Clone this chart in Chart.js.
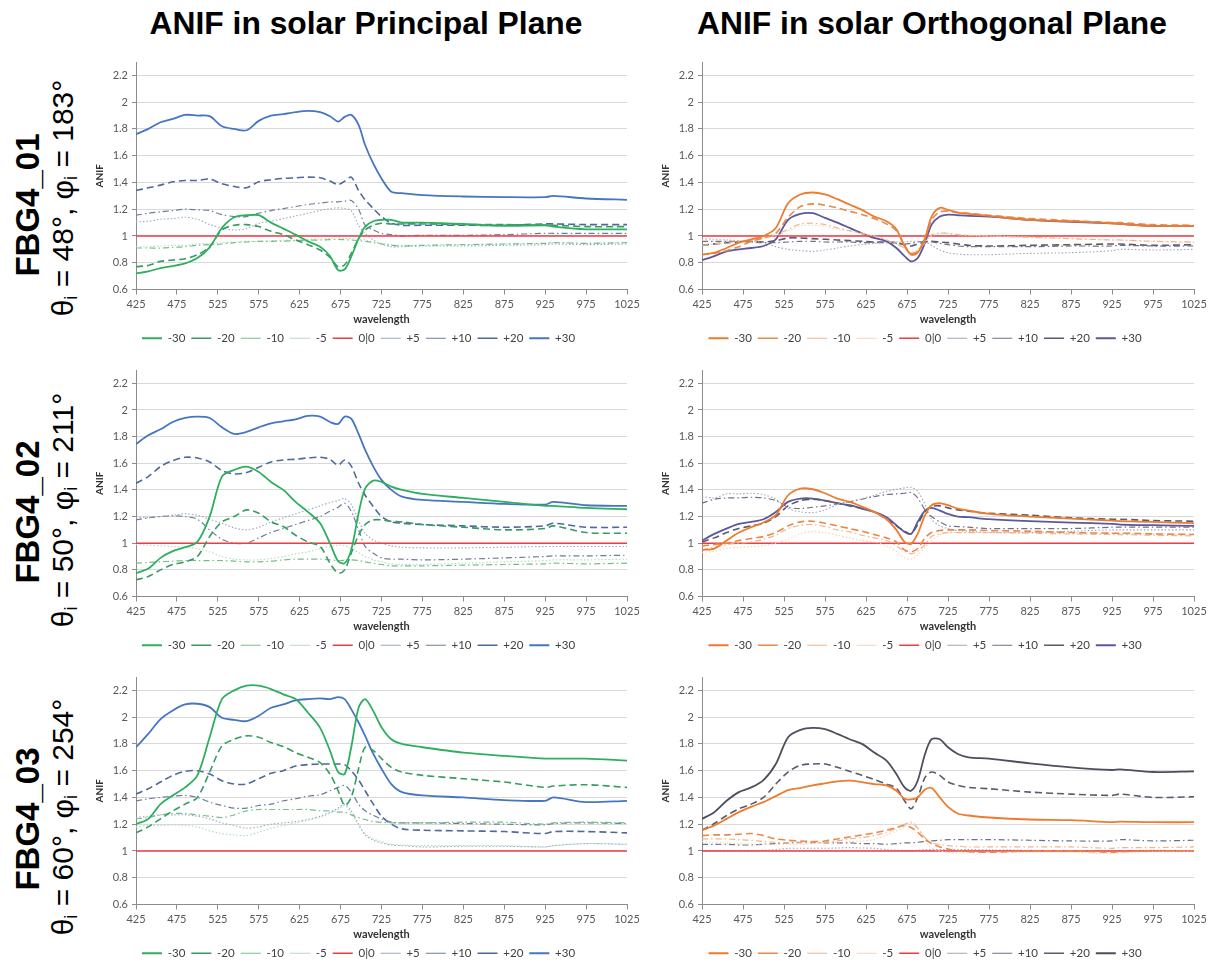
<!DOCTYPE html>
<html><head><meta charset="utf-8">
<script src="https://cdn.jsdelivr.net/npm/chart.js@4.4.1/dist/chart.umd.min.js"></script>
<style>
html,body{margin:0;padding:0;background:#fff;width:1216px;height:965px;overflow:hidden;position:relative;}
canvas{position:absolute;}
.title{position:absolute;font-family:"Liberation Sans",Arial,sans-serif;font-weight:bold;font-size:31.8px;color:#000;white-space:nowrap;transform:translate(-50%,-50%);z-index:2;}
.rowlab{position:absolute;font-family:"Liberation Sans",Arial,sans-serif;white-space:nowrap;transform:translate(-50%,-50%) rotate(-90deg);color:#000;z-index:2;line-height:1;}
.rowlab.b{font-weight:bold;font-size:33px;}
.rowlab.n{font-size:30px;}
.rowlab sub{font-size:60%;vertical-align:-0.25em;}
</style></head><body>
<div class="title" style="left:366px;top:23px">ANIF in solar Principal Plane</div>
<div class="title" style="left:932px;top:23px">ANIF in solar Orthogonal Plane</div>
<div class="rowlab b" style="left:27px;top:205px">FBG4_01</div>
<div class="rowlab n" style="left:64px;top:198px">θ<sub>i</sub> = 48°, φ<sub>i</sub> = 183°</div>
<div class="rowlab b" style="left:27px;top:512px">FBG4_02</div>
<div class="rowlab n" style="left:64px;top:510px">θ<sub>i</sub> = 50°, φ<sub>i</sub> = 211°</div>
<div class="rowlab b" style="left:27px;top:819px">FBG4_03</div>
<div class="rowlab n" style="left:64px;top:817px">θ<sub>i</sub> = 60°, φ<sub>i</sub> = 254°</div>
<script>
// ---------------- DATA ----------------
const wavelengths = [425,440,455,470,485, 500,515,530,545,560, 575,590,605,620,635, 650,662,672,680,688, 697,705,715,725,737, 750,775,825,875,925, 935,975,1025];
const seriesLabels = ['-30','-20','-10','-5','0|0','+5','+10','+20','+30'];
const xTickValues = [425,475,525,575,625,675,725,775,825,875,925,975,1025];
const yTickValues = [0.6,0.8,1.0,1.2,1.4,1.6,1.8,2.0,2.2];
const zeroRef = [1,1,1,1,1, 1,1,1,1,1, 1,1,1,1,1, 1,1,1,1,1, 1,1,1,1,1, 1,1,1,1,1, 1,1,1];

// FBG4_01 principal plane
const p01P_m30 = [0.72,0.735,0.76,0.775,0.795, 0.835,0.915,1.06,1.14,1.155, 1.155,1.10,1.055,1.01,0.96, 0.92,0.85,0.745,0.75,0.845, 0.98,1.07,1.11,1.12,1.12, 1.10,1.10,1.09,1.075,1.08, 1.07,1.05,1.05];
const p01P_m20 = [0.77,0.78,0.81,0.82,0.83, 0.86,0.92,1.045,1.08,1.085, 1.07,1.035,1.01,0.97,0.935, 0.895,0.84,0.77,0.785,0.87, 0.98,1.045,1.08,1.095,1.09, 1.09,1.09,1.085,1.085,1.08, 1.08,1.07,1.07];
const p01P_m10 = [0.91,0.91,0.91,0.915,0.92, 0.93,0.935,0.94,0.95,0.955, 0.96,0.96,0.962,0.965,0.968, 0.97,0.972,0.975,0.972,0.97, 0.965,0.96,0.95,0.94,0.93, 0.925,0.93,0.935,0.94,0.945, 0.95,0.945,0.95];
const p01P_m5  = [0.92,0.92,0.925,0.93,0.93, 0.94,0.945,0.95,0.955,0.96, 0.96,0.965,0.968,0.97,0.975, 0.978,0.982,0.985,0.982,0.98, 0.975,0.97,0.955,0.945,0.935, 0.93,0.93,0.935,0.94,0.945, 0.95,0.945,0.95];
const p01P_p5  = [1.105,1.11,1.125,1.13,1.14, 1.125,1.085,1.06,1.045,1.055, 1.095,1.11,1.13,1.15,1.17, 1.19,1.205,1.21,1.205,1.19, 1.08,1.02,0.97,0.94,0.92, 0.92,0.925,0.925,0.93,0.935, 0.94,0.935,0.94];
const p01P_p10 = [1.155,1.17,1.18,1.19,1.20, 1.195,1.19,1.16,1.145,1.145, 1.17,1.19,1.205,1.22,1.235, 1.245,1.255,1.255,1.26,1.265, 1.20,1.08,1.045,1.02,1.01, 1.0,1.005,1.005,1.01,1.02, 1.02,1.02,1.02];
const p01P_p20 = [1.34,1.36,1.38,1.405,1.415, 1.415,1.425,1.39,1.37,1.36, 1.405,1.42,1.43,1.435,1.44, 1.435,1.41,1.385,1.41,1.44, 1.34,1.27,1.205,1.145,1.095, 1.08,1.08,1.08,1.08,1.09, 1.09,1.085,1.085];
const p01P_p30 = [1.76,1.80,1.85,1.875,1.905, 1.90,1.895,1.82,1.80,1.79, 1.86,1.90,1.91,1.925,1.935, 1.925,1.895,1.855,1.89,1.905, 1.83,1.68,1.54,1.43,1.33, 1.32,1.305,1.295,1.29,1.29, 1.30,1.28,1.27];

// FBG4_01 orthogonal plane
const p01O_m30 = [0.86,0.875,0.91,0.95,0.975, 1.0,1.06,1.245,1.31,1.325, 1.31,1.275,1.235,1.195,1.145, 1.11,1.05,0.925,0.86,0.875, 0.985,1.145,1.21,1.195,1.175, 1.165,1.15,1.12,1.11,1.095, 1.09,1.075,1.075];
const p01O_m20 = [0.86,0.87,0.89,0.92,0.96, 0.985,1.02,1.14,1.22,1.24, 1.23,1.21,1.185,1.16,1.13, 1.09,1.04,0.93,0.87,0.885, 0.98,1.12,1.18,1.185,1.175, 1.17,1.155,1.13,1.115,1.10, 1.10,1.085,1.08];
const p01O_m10 = [0.93,0.94,0.95,0.96,0.97, 0.99,1.01,1.05,1.09,1.095, 1.085,1.06,1.04,1.02,1.0, 0.97,0.94,0.91,0.87,0.89, 0.95,1.01,1.02,1.02,1.01, 1.005,1.0,0.99,0.98,0.97, 0.97,0.96,0.955];
const p01O_m5  = [0.97,0.97,0.97,0.97,0.97, 0.98,1.0,1.04,1.075,1.08, 1.07,1.05,1.035,1.015,1.0, 0.97,0.94,0.91,0.88,0.9, 0.96,1.0,1.02,1.02,1.01, 1.005,1.0,0.99,0.98,0.97, 0.97,0.96,0.95];
const p01O_p5  = [0.98,0.975,0.97,0.965,0.96, 0.95,0.92,0.90,0.89,0.885, 0.895,0.91,0.925,0.935,0.945, 0.95,0.955,0.955,0.96,0.96, 0.955,0.93,0.895,0.875,0.865, 0.86,0.86,0.87,0.875,0.89, 0.9,0.895,0.9];
const p01O_p10 = [0.96,0.96,0.96,0.96,0.955, 0.95,0.95,0.955,0.96,0.96, 0.955,0.955,0.955,0.95,0.95, 0.95,0.945,0.94,0.945,0.955, 0.96,0.955,0.945,0.935,0.925, 0.92,0.92,0.92,0.925,0.925, 0.93,0.925,0.925];
const p01O_p20 = [0.93,0.94,0.95,0.955,0.96, 0.955,0.965,0.985,0.985,0.98, 0.975,0.97,0.965,0.96,0.955, 0.955,0.95,0.935,0.925,0.94, 0.955,0.96,0.955,0.95,0.94, 0.93,0.925,0.93,0.935,0.94, 0.94,0.93,0.935];
const p01O_p30 = [0.82,0.85,0.885,0.90,0.91, 0.925,0.975,1.12,1.165,1.17, 1.135,1.10,1.06,1.02,0.985, 0.96,0.91,0.85,0.81,0.835, 0.95,1.085,1.145,1.16,1.155, 1.15,1.145,1.12,1.105,1.095, 1.09,1.075,1.075];

// FBG4_02 principal plane
const p02P_m30 = [0.775,0.81,0.89,0.94,0.97, 1.01,1.20,1.50,1.55,1.575, 1.535,1.46,1.40,1.31,1.235, 1.15,1.0,0.865,0.85,0.95, 1.225,1.41,1.47,1.46,1.425, 1.40,1.37,1.34,1.31,1.28, 1.28,1.265,1.255];
const p02P_m20 = [0.725,0.75,0.80,0.84,0.86, 0.90,1.05,1.16,1.20,1.25, 1.225,1.16,1.125,1.06,1.01, 0.975,0.85,0.775,0.80,0.925, 1.06,1.14,1.175,1.175,1.165, 1.16,1.14,1.12,1.10,1.11, 1.13,1.08,1.075];
const p02P_m10 = [0.85,0.855,0.86,0.865,0.87, 0.87,0.87,0.87,0.865,0.86, 0.86,0.865,0.875,0.88,0.88, 0.88,0.875,0.87,0.872,0.875, 0.87,0.86,0.85,0.84,0.83, 0.83,0.83,0.835,0.84,0.845, 0.85,0.845,0.85];
const p02P_m5  = [0.99,0.985,0.98,0.975,0.97, 0.96,0.935,0.90,0.88,0.875, 0.875,0.885,0.90,0.92,0.935, 0.96,0.975,0.985,0.98,0.96, 0.93,0.90,0.875,0.86,0.845, 0.84,0.84,0.85,0.86,0.87, 0.875,0.875,0.88];
const p02P_p5  = [1.19,1.195,1.20,1.21,1.22, 1.21,1.18,1.15,1.115,1.10, 1.12,1.16,1.19,1.22,1.25, 1.28,1.305,1.32,1.335,1.29, 1.17,1.075,1.025,1.0,0.98, 0.97,0.965,0.965,0.97,0.975, 0.975,0.975,0.975];
const p02P_p10 = [1.175,1.19,1.20,1.205,1.20, 1.18,1.10,1.03,1.0,1.0, 1.04,1.08,1.11,1.14,1.17, 1.20,1.24,1.27,1.30,1.24, 1.10,0.975,0.925,0.89,0.88, 0.88,0.875,0.88,0.89,0.90, 0.905,0.905,0.91];
const p02P_p20 = [1.45,1.50,1.575,1.62,1.645, 1.64,1.61,1.545,1.52,1.53, 1.57,1.61,1.625,1.63,1.64, 1.645,1.63,1.585,1.625,1.58, 1.45,1.36,1.275,1.20,1.16, 1.15,1.14,1.13,1.12,1.13, 1.15,1.12,1.12];
const p02P_p30 = [1.745,1.81,1.855,1.91,1.94, 1.95,1.94,1.87,1.82,1.835, 1.87,1.90,1.915,1.93,1.955, 1.95,1.91,1.895,1.95,1.935, 1.82,1.70,1.575,1.475,1.40, 1.35,1.325,1.31,1.295,1.29, 1.31,1.285,1.28];

// FBG4_02 orthogonal plane
const p02O_m30 = [0.95,0.96,1.02,1.08,1.12, 1.155,1.21,1.36,1.41,1.405, 1.375,1.335,1.31,1.275,1.235, 1.18,1.10,1.01,0.995,1.07, 1.21,1.285,1.30,1.285,1.26, 1.245,1.22,1.20,1.185,1.17, 1.165,1.16,1.15];
const p02O_m20 = [0.98,0.99,1.00,1.02,1.035, 1.05,1.08,1.13,1.16,1.165, 1.15,1.13,1.11,1.09,1.065, 1.04,1.01,0.95,0.935,0.96, 1.04,1.08,1.095,1.10,1.10, 1.10,1.095,1.09,1.08,1.075, 1.075,1.07,1.065];
const p02O_m10 = [0.95,0.97,0.99,1.0,1.01, 1.03,1.06,1.11,1.135,1.14, 1.125,1.10,1.085,1.06,1.04, 1.02,0.98,0.94,0.92,0.94, 0.99,1.05,1.07,1.08,1.08, 1.08,1.08,1.075,1.07,1.065, 1.065,1.06,1.055];
const p02O_m5  = [0.93,0.94,0.96,0.97,0.975, 0.98,1.0,1.03,1.07,1.09, 1.08,1.06,1.04,1.02,1.01, 0.98,0.94,0.89,0.88,0.91, 0.97,1.02,1.06,1.08,1.08, 1.08,1.08,1.08,1.08,1.075, 1.075,1.07,1.07];
const p02O_p5  = [1.35,1.34,1.37,1.37,1.375, 1.365,1.33,1.26,1.235,1.23, 1.25,1.29,1.31,1.335,1.36, 1.39,1.405,1.415,1.42,1.39, 1.29,1.18,1.13,1.11,1.095, 1.09,1.08,1.08,1.09,1.10, 1.10,1.10,1.10];
const p02O_p10 = [1.30,1.33,1.34,1.34,1.345, 1.34,1.32,1.27,1.26,1.27, 1.28,1.295,1.31,1.33,1.35, 1.365,1.37,1.375,1.38,1.34, 1.25,1.20,1.16,1.13,1.125, 1.12,1.11,1.11,1.11,1.12, 1.12,1.12,1.12];
const p02O_p20 = [1.01,1.04,1.08,1.11,1.13, 1.15,1.20,1.28,1.32,1.33, 1.32,1.30,1.28,1.26,1.235, 1.18,1.13,1.09,1.07,1.14, 1.24,1.275,1.28,1.265,1.25, 1.24,1.225,1.21,1.19,1.18, 1.18,1.17,1.165];
const p02O_p30 = [1.02,1.07,1.11,1.145,1.16, 1.18,1.235,1.31,1.335,1.335, 1.32,1.30,1.285,1.26,1.235, 1.195,1.135,1.085,1.07,1.16, 1.245,1.265,1.245,1.22,1.20, 1.195,1.18,1.165,1.155,1.145, 1.14,1.135,1.13];

// FBG4_03 principal plane
const p03P_m30 = [1.20,1.24,1.35,1.415,1.475, 1.565,1.85,2.135,2.20,2.235, 2.235,2.21,2.17,2.135,2.035, 1.92,1.75,1.59,1.575,1.775, 2.07,2.135,2.045,1.925,1.835, 1.80,1.775,1.735,1.71,1.69, 1.69,1.69,1.675];
const p03P_m20 = [1.135,1.18,1.24,1.30,1.35, 1.40,1.59,1.785,1.835,1.86, 1.85,1.81,1.78,1.735,1.70, 1.66,1.575,1.45,1.34,1.40, 1.615,1.775,1.75,1.69,1.625, 1.59,1.565,1.54,1.515,1.475, 1.485,1.495,1.475];
const p03P_m10 = [1.24,1.25,1.27,1.28,1.28, 1.27,1.26,1.25,1.27,1.30, 1.31,1.31,1.31,1.31,1.31, 1.30,1.30,1.29,1.29,1.27, 1.25,1.235,1.22,1.215,1.21, 1.21,1.21,1.215,1.215,1.20, 1.21,1.215,1.21];
const p03P_m5  = [1.18,1.19,1.19,1.195,1.19, 1.18,1.15,1.13,1.12,1.115, 1.14,1.17,1.19,1.21,1.23, 1.25,1.28,1.31,1.34,1.28, 1.19,1.13,1.09,1.07,1.05, 1.045,1.04,1.04,1.04,1.03, 1.04,1.055,1.05];
const p03P_p5  = [1.25,1.26,1.27,1.27,1.27, 1.26,1.24,1.21,1.19,1.17, 1.18,1.20,1.21,1.22,1.235, 1.26,1.29,1.32,1.35,1.30, 1.20,1.12,1.08,1.06,1.045, 1.04,1.03,1.035,1.035,1.03, 1.04,1.055,1.05];
const p03P_p10 = [1.375,1.39,1.40,1.41,1.415, 1.40,1.365,1.34,1.32,1.32, 1.34,1.35,1.375,1.39,1.41, 1.42,1.45,1.475,1.49,1.44, 1.35,1.30,1.265,1.24,1.215, 1.21,1.21,1.205,1.20,1.195, 1.205,1.21,1.205];
const p03P_p20 = [1.425,1.465,1.515,1.565,1.595, 1.60,1.575,1.525,1.50,1.50, 1.54,1.58,1.60,1.635,1.645, 1.65,1.65,1.65,1.645,1.60, 1.53,1.45,1.35,1.26,1.20, 1.165,1.155,1.15,1.145,1.13, 1.145,1.145,1.135];
const p03P_p30 = [1.775,1.875,1.985,2.05,2.095, 2.10,2.075,1.995,1.98,1.97, 2.01,2.07,2.095,2.125,2.135, 2.14,2.135,2.15,2.135,2.06, 1.96,1.86,1.725,1.615,1.50, 1.44,1.415,1.40,1.38,1.375, 1.40,1.365,1.375];

// FBG4_03 orthogonal plane
const p03O_m30 = [1.155,1.19,1.24,1.29,1.33, 1.365,1.41,1.455,1.47,1.49, 1.505,1.52,1.525,1.515,1.50, 1.49,1.45,1.39,1.385,1.40, 1.46,1.47,1.40,1.33,1.28, 1.265,1.25,1.235,1.23,1.215, 1.22,1.215,1.215];
const p03O_m20 = [1.115,1.12,1.12,1.125,1.13, 1.115,1.09,1.08,1.075,1.07, 1.075,1.09,1.105,1.12,1.135, 1.155,1.175,1.19,1.175,1.14, 1.09,1.055,1.03,1.015,1.0, 0.995,0.99,1.0,1.0,0.99, 0.995,1.0,1.0];
const p03O_m10 = [1.09,1.09,1.09,1.085,1.08, 1.07,1.065,1.06,1.06,1.06, 1.065,1.075,1.09,1.10,1.115, 1.14,1.17,1.20,1.21,1.17, 1.10,1.06,1.05,1.04,1.035, 1.03,1.03,1.03,1.03,1.02, 1.025,1.025,1.03];
const p03O_m5  = [1.07,1.065,1.06,1.055,1.05, 1.05,1.05,1.05,1.05,1.055, 1.06,1.065,1.07,1.075,1.085, 1.12,1.15,1.18,1.22,1.18, 1.08,1.02,1.0,0.99,0.985, 0.985,0.99,0.99,0.99,0.98, 0.985,0.995,1.0];
const p03O_p5  = [1.0,1.0,1.0,1.0,1.0, 1.005,1.01,1.02,1.02,1.02, 1.02,1.022,1.025,1.022,1.02, 1.01,1.005,1.0,1.0,1.005, 1.01,1.01,1.01,1.01,1.01, 1.01,1.008,1.005,1.0,1.0, 1.0,1.005,1.0];
const p03O_p10 = [1.05,1.05,1.05,1.045,1.045, 1.05,1.055,1.06,1.065,1.065, 1.06,1.06,1.06,1.055,1.055, 1.05,1.055,1.06,1.06,1.065, 1.07,1.075,1.08,1.085,1.085, 1.085,1.085,1.08,1.075,1.075, 1.085,1.075,1.08];
const p03O_p20 = [1.155,1.205,1.265,1.315,1.35, 1.40,1.50,1.59,1.64,1.65, 1.65,1.625,1.595,1.565,1.535, 1.50,1.47,1.375,1.315,1.40, 1.55,1.59,1.565,1.515,1.49, 1.475,1.465,1.44,1.425,1.415, 1.425,1.40,1.405];
const p03O_p30 = [1.24,1.29,1.375,1.44,1.475, 1.53,1.65,1.85,1.905,1.92, 1.91,1.875,1.835,1.80,1.735, 1.675,1.575,1.475,1.45,1.525, 1.725,1.835,1.835,1.775,1.725, 1.70,1.69,1.655,1.625,1.605, 1.61,1.59,1.595];

// ---------------- STYLES / LAYOUT ----------------
const lineStyles = [
  {dash:[], w:1.8}, {dash:[7,4], w:1.6}, {dash:[6,3,1.5,3], w:1.2}, {dash:[1.5,2], w:1.1},
  {dash:[], w:1.6},
  {dash:[1.5,2], w:1.1}, {dash:[6,3,1.5,3], w:1.2}, {dash:[7,4], w:1.6}, {dash:[], w:1.8}
];
const greenBlue = ['#2EAF5E','#379B62','#74BF88','#B5DBBF','#EE3B45','#9CA8C0','#6D7C9B','#4D6A9B','#4676C2'];
const orangePurple = ['#EE7B2E','#E8894A','#F0B48C','#F5D2B8','#EE3B45','#A3A3BA','#6F6F88','#5A5A6E','#5A58A0'];
const orangeGrey = ['#EE7B2E','#E8894A','#F0B48C','#F5D2B8','#EE3B45','#A3A3BA','#6F6F88','#5A5A6E','#4E4E5C'];

const colBox = [{left:136,right:627},{left:702,right:1194}];
const rowBox = [{top:62,bottom:290},{top:370,bottom:597},{top:677,bottom:905}];
const Y_W = 46, X_H = 37, LEG_H = 27, PAD_T = 12, PAD_R = 16;

const panels = [
  {row:0,col:0,colors:greenBlue,   series:[p01P_m30,p01P_m20,p01P_m10,p01P_m5,zeroRef,p01P_p5,p01P_p10,p01P_p20,p01P_p30]},
  {row:0,col:1,colors:orangePurple,series:[p01O_m30,p01O_m20,p01O_m10,p01O_m5,zeroRef,p01O_p5,p01O_p10,p01O_p20,p01O_p30]},
  {row:1,col:0,colors:greenBlue,   series:[p02P_m30,p02P_m20,p02P_m10,p02P_m5,zeroRef,p02P_p5,p02P_p10,p02P_p20,p02P_p30]},
  {row:1,col:1,colors:orangePurple,series:[p02O_m30,p02O_m20,p02O_m10,p02O_m5,zeroRef,p02O_p5,p02O_p10,p02O_p20,p02O_p30]},
  {row:2,col:0,colors:greenBlue,   series:[p03P_m30,p03P_m20,p03P_m10,p03P_m5,zeroRef,p03P_p5,p03P_p10,p03P_p20,p03P_p30]},
  {row:2,col:1,colors:orangeGrey,  series:[p03O_m30,p03O_m20,p03O_m10,p03O_m5,zeroRef,p03O_p5,p03O_p10,p03O_p20,p03O_p30]}
];

const tickFont = {family:'Lato, "Liberation Sans", sans-serif', size:11};
const axisGrey = '#8C8C8C';

panels.forEach((p) => {
  const cb = colBox[p.col], rb = rowBox[p.row];
  const left = cb.left - Y_W, top = rb.top - PAD_T;
  const width = cb.right + PAD_R - left;
  const height = rb.bottom + X_H + LEG_H - top;
  const cv = document.createElement('canvas');
  cv.width = width; cv.height = height;
  cv.style.left = left + 'px'; cv.style.top = top + 'px';
  cv.style.width = width + 'px'; cv.style.height = height + 'px';
  document.body.appendChild(cv);

  const datasets = p.series.map((arr, i) => ({
    label: seriesLabels[i],
    data: wavelengths.map((w, k) => ({x: w, y: arr[k]})),
    borderColor: p.colors[i],
    backgroundColor: p.colors[i],
    borderWidth: lineStyles[i].w,
    borderDash: lineStyles[i].dash,
    pointRadius: 0,
    tension: 0.3,
    fill: false
  }));

  new Chart(cv, {
    type: 'line',
    data: {datasets},
    options: {
      responsive: false, animation: false, devicePixelRatio: 1,
      layout: {padding: {top: PAD_T, right: PAD_R, left: 0, bottom: 0}},
      plugins: {
        tooltip: {enabled: false},
        legend: {
          position: 'bottom',
          labels: {
            usePointStyle: true, pointStyle: 'line', pointStyleWidth: 20,
            padding: 6, color: '#404040',
            sort: (a, b) => a.datasetIndex - b.datasetIndex,
            font: {family:'Lato, "Liberation Sans", sans-serif', size: 11.5}
          }
        }
      },
      scales: {
        x: {
          type: 'linear', min: 425, max: 1025,
          afterBuildTicks: (s) => { s.ticks = xTickValues.map(v => ({value: v})); },
          afterFit: (s) => { s.height = X_H; },
          ticks: {font: tickFont, color: '#595959', padding: 3, maxRotation: 0, autoSkip: false,
                  callback: (v) => String(v)},
          grid: {drawOnChartArea: false, drawTicks: true, tickLength: 5, color: axisGrey, tickColor: axisGrey},
          border: {display: true, color: axisGrey, width: 1},
          title: {display: true, text: 'wavelength', color: '#333',
                  font: {family:'Lato, "Liberation Sans", sans-serif', size: 11, weight: 'bold'},
                  padding: {top: 0, bottom: 0}}
        },
        y: {
          type: 'linear', min: 0.6, max: 2.3,
          afterBuildTicks: (s) => { s.ticks = yTickValues.map(v => ({value: v})); },
          afterFit: (s) => { s.width = Y_W; },
          ticks: {font: tickFont, color: '#595959', padding: 4,
                  callback: (v) => String(Math.round(v * 10) / 10)},
          grid: {color: '#D9D9D9', lineWidth: 1, drawTicks: true, tickLength: 4, tickColor: axisGrey},
          border: {display: true, color: axisGrey, width: 1},
          title: {display: true, text: 'ANIF', color: '#333',
                  font: {family:'Lato, "Liberation Sans", sans-serif', size: 10, weight: 'bold'},
                  padding: {top: 4, bottom: 0}}
        }
      }
    }
  });
});
</script>
</body></html>
